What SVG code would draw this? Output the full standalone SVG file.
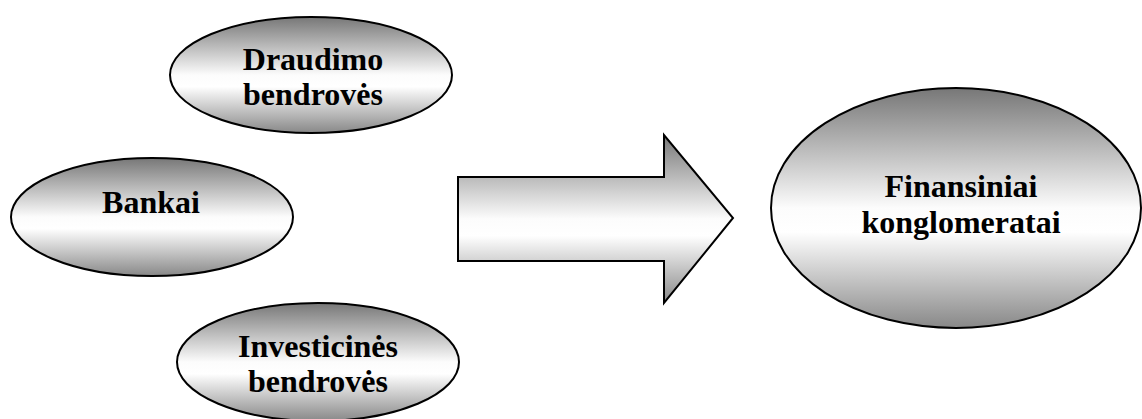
<svg xmlns="http://www.w3.org/2000/svg" width="1142" height="419" viewBox="0 0 1142 419">
  <style>
    .shape { stroke: #000; stroke-width: 2; fill: url(#shade); }
    .label { font-family: "Liberation Serif", "Times New Roman", serif; font-weight: bold; font-size: 32px; fill: #000; text-anchor: middle; }
  </style>
  <defs>
    <!-- vertical shading: dark rim top and bottom, bright band just below the middle -->
    <linearGradient id="shade" x1="0" y1="0" x2="0" y2="1">
      <stop offset="0" stop-color="#777"/>
      <stop offset="0.5" stop-color="#fcfcfc"/>
      <stop offset="0.6" stop-color="#fff"/>
      <stop offset="1" stop-color="#888"/>
    </linearGradient>
  </defs>
  <rect width="1142" height="419" fill="#fff"/>

  <g id="draudimo">
    <ellipse class="shape" cx="311" cy="75" rx="141" ry="58"/>
    <text class="label" x="313" y="70">Draudimo</text>
    <text class="label" x="313" y="105">bendrovės</text>
  </g>

  <g id="bankai">
    <ellipse class="shape" cx="152" cy="217" rx="141" ry="59"/>
    <text class="label" x="151" y="213">Bankai</text>
  </g>

  <g id="investicines">
    <ellipse class="shape" cx="318" cy="362" rx="141" ry="59"/>
    <text class="label" x="318" y="357">Investicinės</text>
    <text class="label" x="318" y="392">bendrovės</text>
  </g>

  <g id="connectors">
    <path class="shape" d="M458 177 H664 V135 L733 218 L664 303 V261 H458 Z"/>
  </g>

  <g id="finansiniai">
    <ellipse class="shape" cx="956" cy="208" rx="185" ry="120"/>
    <text class="label" x="961" y="197">Finansiniai</text>
    <text class="label" x="961" y="233">konglomeratai</text>
  </g>
</svg>
